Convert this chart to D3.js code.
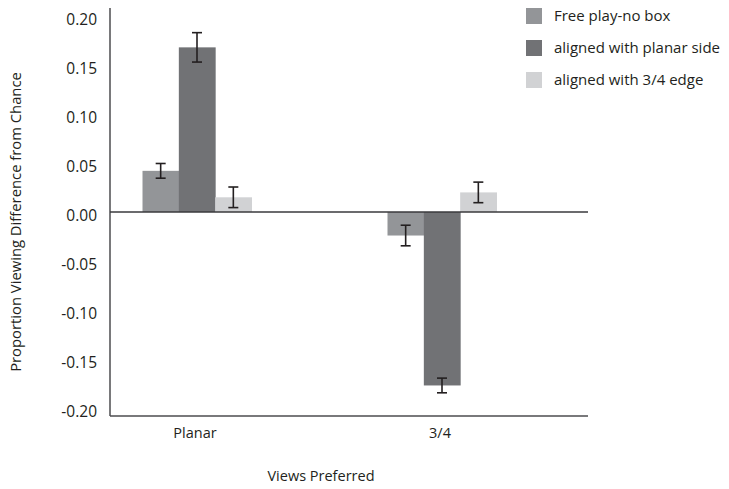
<!DOCTYPE html>
<html>
<head>
<meta charset="utf-8">
<script src="https://cdn.jsdelivr.net/npm/d3@7"></script>
<style>
  body { margin: 0; background: #fff; }
  text { font-family: "Open Sans", sans-serif; fill: #231f20; }
</style>
</head>
<body>
<div id="chart"></div>
<script>
// data
var categories = ["Planar", "3/4"];
var seriesNames = ["Free play-no box", "aligned with planar side", "aligned with 3/4 edge"];
var freePlay   = [0.042, -0.024];
var planarSide = [0.168, -0.177];
var edgeSide   = [0.015, 0.020];
var freePlayErr   = [0.0075, 0.0105];
var planarSideErr = [0.015, 0.0075];
var edgeSideErr   = [0.0105, 0.0105];
var yTicks = [0.20, 0.15, 0.10, 0.05, 0.00, -0.05, -0.10, -0.15, -0.20];

var colors = ["#939598", "#717275", "#d1d2d4"];

var series = [
  {name: seriesNames[0], values: freePlay, errs: freePlayErr},
  {name: seriesNames[1], values: planarSide, errs: planarSideErr},
  {name: seriesNames[2], values: edgeSide, errs: edgeSideErr}
];

var width = 729, height = 489;
var svg = d3.select("#chart").append("svg")
    .attr("width", width)
    .attr("height", height);

//scales
var y = d3.scaleLinear().domain([-0.2, 0.2]).range([408, 16]);
// group centres, as placed in the picture
var groupCenter = d3.scalePoint().domain(categories).range([197, 442]);
var groupW = 109;
var x1 = d3.scaleBand().domain(seriesNames).range([-groupW / 2, groupW / 2]);

//bars
series.forEach(function(s, si) {
  var g = svg.append("g").attr("class", "series");
  g.selectAll("rect")
    .data(categories)
    .enter().append("rect")
    .attr("x", function(d) { return groupCenter(d) + x1(s.name); })
    .attr("width", x1.bandwidth() + 0.5)
    .attr("y", function(d, i) { return Math.min(y(0), y(s.values[i])); })
    .attr("height", function(d, i) { return Math.abs(y(s.values[i]) - y(0)); })
    .style("fill", colors[si]);

  //error bars
  var eb = g.selectAll(".err")
    .data(categories)
    .enter().append("g")
    .attr("class", "err")
    .attr("transform", function(d) {
      return "translate(" + (groupCenter(d) + x1(s.name) + x1.bandwidth() / 2) + ",0)";
    });
  eb.append("line")
    .attr("y1", function(d, i) { return y(s.values[i] + s.errs[i]); })
    .attr("y2", function(d, i) { return y(s.values[i] - s.errs[i]); });
  eb.append("line")
    .attr("x1", -5).attr("x2", 5)
    .attr("y1", function(d, i) { return y(s.values[i] + s.errs[i]); })
    .attr("y2", function(d, i) { return y(s.values[i] + s.errs[i]); });
  eb.append("line")
    .attr("x1", -5).attr("x2", 5)
    .attr("y1", function(d, i) { return y(s.values[i] - s.errs[i]); })
    .attr("y2", function(d, i) { return y(s.values[i] - s.errs[i]); });
  eb.selectAll("line").style("stroke", "#231f20").style("stroke-width", 1.6);
});

//axes lines
svg.append("line")
  .attr("x1", 110).attr("x2", 110)
  .attr("y1", y(0.2) - 8).attr("y2", y(-0.2) + 8)
  .style("stroke", "#4d4d4f").style("stroke-width", 1.5);
svg.append("line")
  .attr("x1", 110).attr("x2", 588)
  .attr("y1", y(-0.2) + 8).attr("y2", y(-0.2) + 8)
  .style("stroke", "#4d4d4f").style("stroke-width", 1.5);
svg.append("line")
  .attr("x1", 110).attr("x2", 588)
  .attr("y1", y(0)).attr("y2", y(0))
  .style("stroke", "#3a3a3c").style("stroke-width", 1.5);

//y tick labels, plain hyphen for the minus
svg.selectAll(".ytick")
  .data(yTicks)
  .enter().append("text")
  .attr("class", "ytick")
  .attr("x", 97)
  .attr("y", function(d) { return y(d) + 9; })
  .attr("text-anchor", "end")
  .style("font-size", "15.5px")
  .text(function(d) { return d.toFixed(2); });

//category labels
svg.selectAll(".xlab")
  .data(categories)
  .enter().append("text")
  .attr("class", "xlab")
  .attr("x", function(d) { return groupCenter(d) - 2; })
  .attr("y", 438)
  .attr("text-anchor", "middle")
  .style("font-size", "14.5px")
  .text(function(d) { return d; });

//axis titles
svg.append("text")
  .attr("x", 321).attr("y", 481)
  .attr("text-anchor", "middle")
  .style("font-size", "14.5px")
  .text("Views Preferred");

svg.append("text")
  .attr("transform", "translate(21,222) rotate(-90)")
  .attr("text-anchor", "middle")
  .style("font-size", "14.8px")
  .text("Proportion Viewing Difference from Chance");

//key
var legend = svg.append("g").attr("class", "legend")
  .selectAll("g")
  .data(series)
  .enter().append("g")
  .attr("transform", function(d, i) { return "translate(526," + (8 + i * 32) + ")"; });

legend.append("rect")
  .attr("width", 16).attr("height", 16)
  .style("fill", function(d, i) { return colors[i]; });

legend.append("text")
  .attr("x", 28).attr("y", 13)
  .style("font-size", "15px")
  .text(function(d) { return d.name; });
</script>
</body>
</html>
